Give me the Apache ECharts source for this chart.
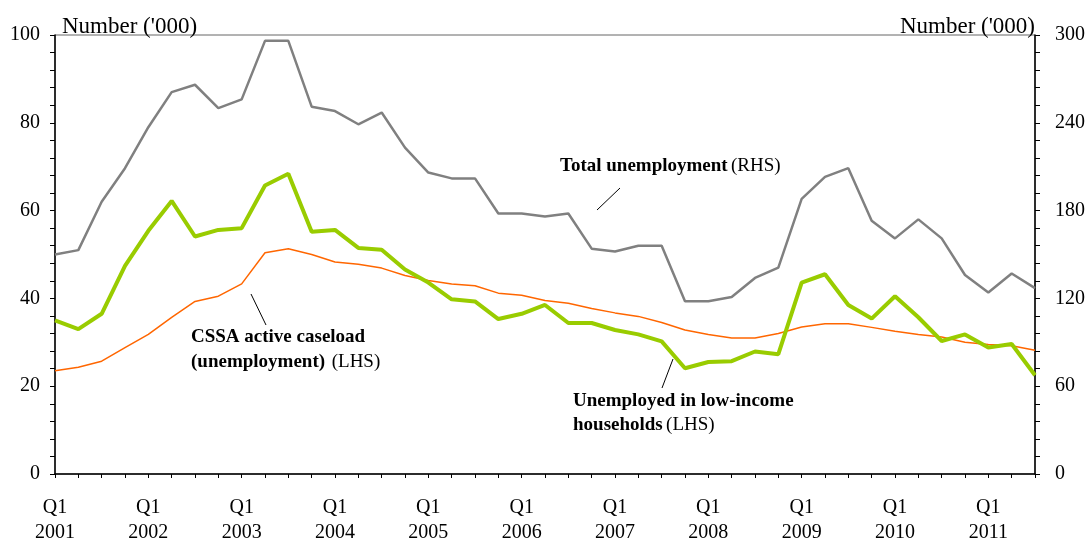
<!DOCTYPE html>
<html>
<head>
<meta charset="utf-8">
<script src="https://cdn.jsdelivr.net/npm/echarts@6/dist/echarts.min.js"></script>
<style>
  html, body { margin: 0; padding: 0; background: #fff; }
  #chart { width: 1088px; height: 545px; }
</style>
</head>
<body>
<div id="chart"></div>
<script>
// quarters Q1 2001 .. Q3 2011
const years = ['2001','2002','2003','2004','2005','2006','2007','2008','2009','2010','2011'];
const quarters = [];
years.forEach(y => ['Q1','Q2','Q3','Q4'].forEach(q => quarters.push(q + '\n' + y)));
quarters.length = 43;

// Total unemployment, RHS ('000)
const totalUnemp = [150, 153, 186, 209, 237, 261, 266, 250, 256, 296, 296, 251, 248, 239, 247, 223,
  206, 202, 202, 178, 178, 176, 178, 154, 152, 156, 156, 118, 118, 121, 134, 141,
  188, 203, 209, 173, 161, 174, 161, 136, 124, 137, 127];

// Unemployed in low-income households, LHS ('000)
const lowIncome = [35.0, 33.0, 36.5, 47.4, 55.4, 62.2, 54.1, 55.6, 56.0, 65.7, 68.4, 55.2, 55.6, 51.5, 51.1, 46.6,
  43.6, 39.8, 39.3, 35.3, 36.5, 38.5, 34.4, 34.4, 32.8, 31.8, 30.2, 24.1, 25.5, 25.7, 27.9, 27.3,
  43.6, 45.5, 38.5, 35.4, 40.5, 35.7, 30.3, 31.8, 28.8, 29.6, 22.5];

// CSSA active caseload (unemployment), LHS ('000)
const cssa = [23.5, 24.3, 25.7, 28.8, 31.8, 35.7, 39.3, 40.5, 43.3, 50.4, 51.3, 50.0, 48.3, 47.8, 46.9, 45.2,
  44.1, 43.3, 42.9, 41.2, 40.7, 39.5, 38.9, 37.7, 36.7, 35.9, 34.5, 32.8, 31.8, 31.0, 31.0, 32.0,
  33.5, 34.2, 34.2, 33.4, 32.5, 31.8, 31.2, 30.0, 29.5, 29.2, 28.2];

const FONT = '"Liberation Serif", "Times New Roman", serif';

const chart = echarts.init(document.getElementById('chart'));

function yAxisCommon(max, interval, pos) {
  return {
    type: 'value', position: pos, min: 0, max: max, interval: interval,
    name: "Number ('000)",
    nameLocation: 'end', nameGap: -3,
    nameTextStyle: {
      fontFamily: FONT, fontSize: 23, color: '#000',
      align: pos === 'left' ? 'left' : 'right',
      padding: pos === 'left' ? [0, 0, 0, 7] : [0, 0, 0, 0]
    },
    axisLine: { show: true, lineStyle: { color: '#000', width: 1.5 } },
    axisTick: { show: true, inside: false, length: 5, lineStyle: { color: '#000' } },
    minorTick: { show: true, splitNumber: 5, length: 5, lineStyle: { color: '#000' } },
    splitLine: { show: false },
    axisLabel: {
      fontFamily: FONT, fontSize: 20, color: '#000',
      margin: pos === 'left' ? 15 : 20
    }
  };
}

chart.setOption({
  backgroundColor: '#fff',
  animation: false,
  grid: {
    left: 55, right: 52, top: 35, bottom: 68,
    show: true, borderColor: '#666', borderWidth: 1
  },
  xAxis: {
    type: 'category',
    data: quarters,
    boundaryGap: false,
    axisLine: { show: true, lineStyle: { color: '#000', width: 1.5 } },
    axisTick: { show: true, interval: 0, length: 4, lineStyle: { color: '#000' } },
    axisLabel: {
      interval: 3, fontFamily: FONT, fontSize: 20, color: '#000',
      lineHeight: 25, margin: 21
    },
    splitLine: { show: false }
  },
  yAxis: [yAxisCommon(100, 20, 'left'), yAxisCommon(300, 60, 'right')],
  series: [
    {
      name: 'CSSA active caseload (unemployment)', type: 'line', yAxisIndex: 0,
      data: cssa, showSymbol: false, z: 2,
      lineStyle: { color: '#FF6600', width: 1.5 }
    },
    {
      name: 'Unemployed in low-income households', type: 'line', yAxisIndex: 0,
      data: lowIncome, showSymbol: false, z: 3,
      lineStyle: { color: '#99CC00', width: 4 }
    },
    {
      name: 'Total unemployment', type: 'line', yAxisIndex: 1,
      data: totalUnemp, showSymbol: false, z: 4,
      lineStyle: { color: '#808080', width: 2.5 }
    }
  ],
  graphic: [
    // annotation: total unemployment
    { type: 'line', shape: { x1: 597, y1: 210, x2: 620, y2: 188 }, style: { stroke: '#000', lineWidth: 1 } },
    {
      type: 'text', left: 560, top: 157,
      style: {
        rich: {
          b: { fontFamily: FONT, fontSize: 19, fontWeight: 'bold', fill: '#000' },
          n: { fontFamily: FONT, fontSize: 19, fill: '#000' }
        },
        text: '{b|Total unemployment} {n|(RHS)}'
      }
    },
    // annotation: CSSA
    { type: 'line', shape: { x1: 251, y1: 294, x2: 266, y2: 325 }, style: { stroke: '#000', lineWidth: 1 } },
    {
      type: 'text', left: 191, top: 328,
      style: {
        rich: {
          b: { fontFamily: FONT, fontSize: 19, fontWeight: 'bold', fill: '#000', lineHeight: 25 },
          n: { fontFamily: FONT, fontSize: 19, fill: '#000', lineHeight: 25 }
        },
        text: '{b|CSSA active caseload}\n{b|(unemployment)}  {n|(LHS)}'
      }
    },
    // annotation: low-income households
    { type: 'line', shape: { x1: 662, y1: 388, x2: 673, y2: 359 }, style: { stroke: '#000', lineWidth: 1 } },
    {
      type: 'text', left: 573, top: 392,
      style: {
        rich: {
          b: { fontFamily: FONT, fontSize: 19, fontWeight: 'bold', fill: '#000', lineHeight: 24 },
          n: { fontFamily: FONT, fontSize: 19, fill: '#000', lineHeight: 24 }
        },
        text: '{b|Unemployed in low-income}\n{b|households} {n|(LHS)}'
      }
    }
  ]
});
</script>
</body>
</html>
